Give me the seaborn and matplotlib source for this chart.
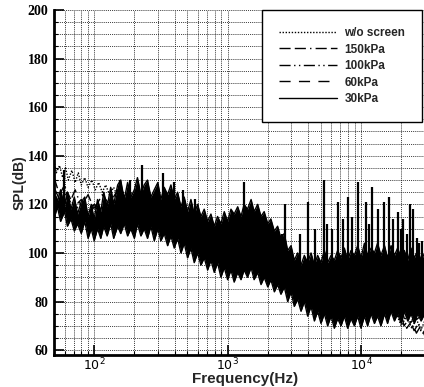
"""
SPL spektrumu - ekran basinclarinin karsilastirilmasi
"""
import numpy as np
import pandas as pd
import matplotlib
matplotlib.use('Agg')
import matplotlib.pyplot as plt
import matplotlib.ticker as mticker
import seaborn as sns

# ============================================================
# VERI
# ============================================================
# 30kPa: yogun bandin alt / ust zarfi
freq_30 = [50, 53, 56, 60, 63, 67, 71, 75, 80, 85, 90, 95, 100, 106, 112, 118,
           125, 133, 140, 150, 158, 168, 178, 188, 200, 211, 224, 237, 251, 266,
           282, 300, 316, 335, 355, 376, 398, 422, 447, 473, 501, 531, 562, 596,
           631, 668, 708, 750, 794, 841, 891, 944, 1000, 1060, 1120, 1190, 1260,
           1330, 1410, 1500, 1580, 1680, 1780, 1880, 2000, 2110, 2240, 2370, 2510,
           2660, 2820, 2990, 3160, 3350, 3550, 3760, 3980, 4220, 4470, 4730, 5010,
           5310, 5620, 5960, 6310, 6680, 7080, 7500, 7940, 8410, 8910, 9440,
           10000, 10600, 11200, 11900, 12600, 13300, 14100, 15000, 15800, 16800,
           17800, 18800, 20000, 21100, 22400, 23700, 25100, 26600, 28200, 30000,
           33000, 37000]
lo_30 = [114, 119, 113, 117, 111, 114, 109, 112, 108, 113, 106, 110, 105, 110,
         106, 111, 107, 112, 106, 111, 108, 112, 107, 110, 106, 112, 107, 110,
         106, 111, 105, 110, 105, 108, 103, 107, 102, 106, 100, 104, 98, 102,
         96, 100, 95, 98, 93, 97, 92, 96, 90, 94, 89, 93, 88, 92, 89, 93, 90,
         94, 89, 92, 87, 90, 86, 89, 84, 87, 83, 86, 80, 84, 78, 81, 76, 80,
         74, 78, 72, 76, 71, 75, 70, 74, 69, 73, 70, 74, 69, 73, 70, 74, 69,
         74, 70, 75, 71, 74, 70, 75, 71, 76, 72, 75, 71, 76, 72, 75, 71, 75,
         72, 75, 72, 74]
hi_30 = [125, 121, 126, 119, 125, 118, 123, 116, 121, 123, 115, 120, 114, 122,
         117, 125, 119, 127, 120, 128, 130, 122, 129, 123, 126, 131, 124, 128,
         130, 123, 126, 129, 122, 127, 124, 128, 122, 125, 119, 123, 117, 122,
         116, 120, 115, 118, 113, 116, 111, 115, 112, 117, 113, 118, 116, 119,
         115, 120, 118, 122, 117, 120, 115, 117, 112, 114, 109, 111, 106, 108,
         101, 103, 97, 100, 95, 99, 96, 100, 95, 99, 96, 101, 96, 99, 97, 101,
         98, 102, 97, 101, 99, 103, 98, 104, 99, 102, 100, 104, 99, 103, 98,
         103, 99, 102, 98, 101, 97, 102, 98, 101, 97, 100, 98, 99]

# 30kPa: tonal tepeler
spike_f = [59, 157, 186, 229, 330, 397, 465, 570, 1180, 1330, 2550, 2700, 3500,
           4010, 4500, 5280, 5600, 6060, 6720, 7300, 8000, 8600, 9500, 10900,
           11500, 12100, 13400, 14900, 16200, 17400, 18900, 19800, 20600, 22000,
           23300, 24500, 26300, 27400, 28600]
spike_top = [134, 130, 130, 136, 133, 129, 126, 122, 116, 129, 108, 120, 108,
             121, 110, 130, 112, 110, 121, 114, 123, 115, 129, 121, 112, 127,
             118, 121, 123, 114, 117, 110, 114, 108, 120, 118, 106, 104, 105]
spike_base = [120, 112, 112, 112, 110, 108, 105, 102, 95, 95, 90, 88, 82, 80,
              80, 78, 78, 78, 78, 78, 78, 78, 78, 78, 78, 78, 78, 78, 78, 78,
              78, 78, 78, 78, 78, 78, 78, 78, 78]

# diger seriler
freq_wo = [50, 52, 55, 58, 61, 64, 68, 72, 76, 80, 85, 90, 96, 102, 108, 115,
           122, 130, 140, 150, 162, 175, 190, 205, 225, 250, 280, 320, 370, 450,
           600, 900, 1500, 2500, 4000, 6000, 9000, 13000, 17000, 20000, 22000,
           24000, 26000, 28000, 30000, 33000]
spl_wo = [138, 133, 136, 131, 135, 130, 134, 129, 133, 128, 131, 127, 130, 126,
          129, 125, 128, 124, 127, 123, 126, 122, 125, 121, 124, 120, 122, 118,
          117, 112, 108, 104, 100, 92, 86, 84, 85, 84, 80, 70, 74, 69, 73, 68,
          72, 70]

freq_150 = [50, 55, 60, 66, 72, 80, 90, 100, 115, 130, 150, 175, 200, 240, 300,
            400, 600, 1000, 2000, 4000, 8000, 15000, 20000, 25000, 30000, 35000]
spl_150 = [131, 124, 128, 121, 126, 119, 124, 118, 124, 120, 126, 121, 125, 119,
           122, 116, 110, 104, 96, 86, 84, 85, 76, 72, 75, 73]

freq_100 = [50, 56, 63, 71, 80, 90, 100, 120, 150, 200, 300, 500, 1000, 2000,
            4000, 8000, 14000, 19000, 21000, 23000, 25000, 27000, 29000, 32000]
spl_100 = [127, 121, 125, 119, 122, 116, 120, 117, 122, 120, 118, 110, 102, 95,
           85, 84, 86, 80, 70, 73, 68, 71, 67, 70]

freq_60 = [50, 56, 63, 71, 80, 90, 100, 120, 150, 200, 300, 500, 1000, 2000,
           4000, 8000, 14000, 20000, 22000, 24000, 26000, 28000, 30000, 34000]
spl_60 = [125, 119, 123, 117, 121, 115, 119, 116, 121, 119, 117, 109, 101, 94,
          84, 83, 85, 78, 69, 72, 67, 70, 66, 69]

labels = ['w/o screen', '150kPa', '100kPa', '60kPa', '30kPa']

# ============================================================
# CIZIM
# ============================================================
sns.set_style('ticks')
plt.rcParams['mathtext.fontset'] = 'stix'

fig = plt.figure(figsize=(4.24, 3.87), dpi=100)
ax = fig.add_axes([0.1274, 0.0827, 0.901, 0.8915])

series = [
    (freq_wo, spl_wo, labels[0], (0, (1, 1.2))),
    (freq_150, spl_150, labels[1], (0, (8, 3, 8, 3, 1, 3))),
    (freq_100, spl_100, labels[2], (0, (8, 2.5, 1, 2.5, 1, 2.5))),
    (freq_60, spl_60, labels[3], (0, (8, 6))),
]
for fx, sy, lab, ls in series:
    sns.lineplot(x=fx, y=sy, ax=ax, color='black', lw=1.0, linestyle=ls,
                 label=lab, estimator=None)

# 30kPa yogun bant
ax.fill_between(freq_30, lo_30, hi_30, color='black', lw=0)
sns.lineplot(x=freq_30, y=hi_30, ax=ax, color='black', lw=1.0,
             label=labels[4], estimator=None)
sns.lineplot(x=freq_30, y=lo_30, ax=ax, color='black', lw=1.0,
             estimator=None, legend=False)
ax.vlines(spike_f, spike_base, spike_top, color='black', lw=1.6)

ax.set_xscale('log')
ax.set_xlim(50, 36500)
ax.set_ylim(58, 200)

ax.yaxis.set_major_locator(mticker.MultipleLocator(20))
ax.yaxis.set_minor_locator(mticker.MultipleLocator(5))
ax.xaxis.set_major_locator(mticker.LogLocator(base=10))
ax.xaxis.set_minor_locator(mticker.LogLocator(base=10, subs=np.arange(2, 10)))
ax.xaxis.set_minor_formatter(mticker.NullFormatter())

ax.grid(True, which='both', color='black', lw=0.6, linestyle=(0, (1, 1.3)))
ax.tick_params(which='major', direction='in', length=7, width=1.2,
               colors='black', pad=4)
ax.tick_params(which='minor', direction='in', length=3, width=0.8,
               colors='black')
for lab in ax.get_yticklabels():
    lab.set_family('Liberation Serif')
    lab.set_fontweight('bold')
    lab.set_fontsize(10)
ax.tick_params(axis='x', labelsize=9, pad=1)

for side in ['top', 'right']:
    ax.spines[side].set_visible(False)
for side in ['left', 'bottom']:
    ax.spines[side].set_linewidth(2)
    ax.spines[side].set_color('black')

ax.set_xlabel('Frequency(Hz)', fontsize=11, fontweight='bold',
              family='Liberation Sans', labelpad=-1)
ax.set_ylabel('SPL(dB)', fontsize=10, fontweight='bold',
              family='Liberation Sans', labelpad=1)

leg = ax.legend(loc='upper left', bbox_to_anchor=(0.545, 1.0),
                frameon=True, fancybox=False, framealpha=1, edgecolor='black',
                prop={'family': 'Liberation Sans', 'weight': 'bold', 'size': 8.5},
                handlelength=4.9, borderpad=1.45, labelspacing=0.38,
                handletextpad=0.6, borderaxespad=0)
leg.get_frame().set_linewidth(1.0)

fig.savefig('out.png', dpi=100)
plt.close(fig)
